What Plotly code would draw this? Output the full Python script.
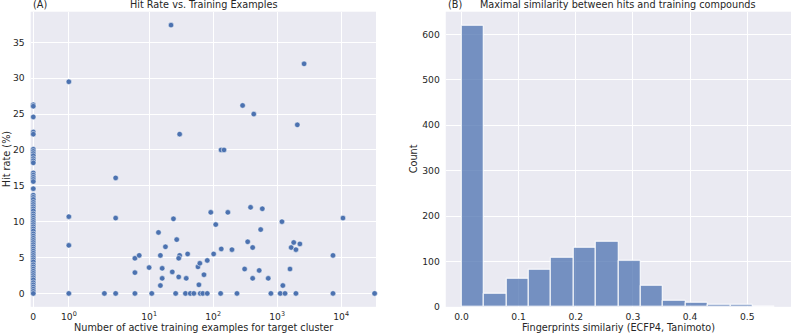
import math
import plotly.graph_objects as go

# ---------------- data: panel A (scatter) ----------------
zero_hit_rates = [26.3, 26.1, 24.6, 22.5, 22.2, 20.1, 19.8, 19.5, 19.2, 18.8, 18.5, 18.2,
                  16.8, 16.5, 16.2, 15.9, 15.6, 14.6,
                  13.7, 13.4, 13.1, 12.7, 12.4, 12.1, 11.8, 11.5, 11.1, 10.8, 10.5, 10.2,
                  9.9, 9.6, 9.3, 9.0, 8.7, 8.3, 8.0, 7.7, 7.4, 7.1, 6.8, 6.5, 6.2, 5.9,
                  5.6, 5.3, 5.0, 4.7, 4.4, 4.0, 3.7, 3.4, 3.1, 2.8, 2.5, 2.2, 1.9, 1.5,
                  1.2, 0.9, 0.6, 0.3, 0.0]

other_examples = [1, 1, 1, 1, 2, 3, 3, 3, 6, 6, 6, 7, 10, 11, 14, 15, 16, 16, 15, 18,
                  22, 24, 23, 27, 26, 30, 29, 29, 30, 40, 38, 37, 44, 50, 58, 62, 60, 72,
                  81, 92, 110, 102, 63, 69, 81, 133, 148, 134, 131, 170, 197, 236, 289,
                  311, 347, 385, 415, 415, 432, 525, 554, 587, 727, 800, 1190, 1230,
                  1120, 1330, 1590, 1660, 1820, 1970, 1970, 2070, 2270, 2640, 7470,
                  7470, 10700, 33400]
other_hit_rates = [29.5, 10.7, 6.7, 0.0, 0.0, 16.1, 10.5, 0.0, 4.9, 2.9, 0.0, 5.3, 3.6,
                   0.0, 8.5, 5.3, 3.5, 2.1, 1.1, 6.5, 37.4, 10.4, 3.0, 7.5, 0.0, 5.3,
                   4.9, 2.3, 22.2, 5.5, 2.1, 0.0, 0.0, 0.0, 3.7, 4.2, 1.2, 2.6, 4.6,
                   11.3, 9.6, 5.5, 0.0, 0.0, 0.0, 20.0, 20.0, 6.2, 0.0, 11.3, 6.1, 0.0,
                   26.2, 3.4, 7.2, 12.0, 6.4, 2.1, 25.0, 3.2, 8.9, 11.8, 2.1, 0.0, 10.0,
                   1.1, 0.0, 0.0, 3.4, 6.4, 7.1, 6.1, 0.0, 23.5, 6.9, 32.0, 5.3, 0.0,
                   10.5, 0.0]

x_tick_values = [0, 1, 10, 100, 1000, 10000]
x_tick_labels = ["0", "10<sup>0</sup>", "10<sup>1</sup>", "10<sup>2</sup>",
                 "10<sup>3</sup>", "10<sup>4</sup>"]
y_ticks_a = [0, 5, 10, 15, 20, 25, 30, 35]

# ---------------- data: panel B (histogram) ----------------
bin_start = 0.0
bin_width = 0.0392
bin_counts = [619, 28, 63, 82, 108, 130, 143, 102, 46, 13, 10, 5, 5, 1]
x_ticks_b = [0.0, 0.1, 0.2, 0.3, 0.4, 0.5]
x_tick_labels_b = ["0.0", "0.1", "0.2", "0.3", "0.4", "0.5"]
y_ticks_b = [0, 100, 200, 300, 400, 500, 600]

# symlog scale (linthresh=2, linscale=1, base 10) as in matplotlib
LINTHRESH = 2.0
LINSCALE_ADJ = 1.0 / (1.0 - 1.0 / 10.0)


def symlog(v):
    if abs(v) <= LINTHRESH:
        return v * LINSCALE_ADJ
    return math.copysign(LINTHRESH * (LINSCALE_ADJ + math.log10(abs(v) / LINTHRESH)), v)


all_x = [0] * len(zero_hit_rates) + other_examples
all_y = zero_hit_rates + other_hit_rates
tx = [symlog(v) for v in all_x]

BLUE = "#4C72B0"
BG = "#EAEAF2"
TXT = "#262626"
FONT = "DejaVu Sans"

fig = go.Figure()

fig.add_trace(go.Scatter(
    x=tx, y=all_y, mode="markers", cliponaxis=False,
    marker=dict(color=BLUE, size=5.5, line=dict(color="white", width=0.5)),
    xaxis="x", yaxis="y", showlegend=False))

centers = [bin_start + bin_width * (i + 0.5) for i in range(len(bin_counts))]
fig.add_trace(go.Bar(
    x=centers, y=bin_counts, width=[bin_width] * len(bin_counts),
    marker=dict(color="rgba(76,114,176,0.75)", line=dict(color="white", width=1)),
    xaxis="x2", yaxis="y2", showlegend=False))

ydom = [0.0868, 0.9652]
dom_a = [0.0388, 0.4747]
dom_b = [0.5628, 0.9987]
tickfont = dict(family=FONT, size=9.2, color=TXT)
common = dict(showgrid=True, gridcolor="white", gridwidth=1, zeroline=False,
              showline=False, ticks="", tickfont=tickfont, automargin=False)

fig.update_layout(
    width=792, height=336,
    margin=dict(l=0, r=0, t=0, b=0),
    paper_bgcolor="white", plot_bgcolor=BG,
    font=dict(family=FONT, color=TXT),
    bargap=0,
    xaxis=dict(domain=dom_a, range=[-0.08, 10.71],
               tickmode="array", tickvals=[symlog(v) for v in x_tick_values],
               ticktext=x_tick_labels, ticklabelstandoff=3, anchor="y", **common),
    yaxis=dict(domain=ydom, range=[-1.87, 39.27], tickmode="array",
               tickvals=y_ticks_a, ticklabelstandoff=5, anchor="x", **common),
    xaxis2=dict(domain=dom_b, range=[-0.0275, 0.5765], tickmode="array",
                tickvals=x_ticks_b, ticktext=x_tick_labels_b, ticklabelstandoff=3,
                anchor="y2", **common),
    yaxis2=dict(domain=ydom, range=[0, 650], tickmode="array",
                tickvals=y_ticks_b, ticklabelstandoff=5, anchor="x2", **common),
)

title_font = dict(family=FONT, size=9.7, color=TXT)
ann = []
for dom, tag, title, xlabel, ylabel, ylab_x in [
        (dom_a, "(A)", "Hit Rate vs. Training Examples",
         "Number of active training examples for target cluster", "Hit rate (%)", 6),
        (dom_b, "(B)", "Maximal similarity between hits and training compounds",
         "Fingerprints similariy (ECFP4, Tanimoto)", "Count", 413)]:
    ann.append(dict(x=dom[0], y=ydom[1], xref="paper", yref="paper", text=tag,
                    showarrow=False, xanchor="left", yanchor="bottom", yshift=0,
                    font=title_font))
    ann.append(dict(x=(dom[0] + dom[1]) / 2, y=ydom[1], xref="paper", yref="paper",
                    text=title, showarrow=False, xanchor="center", yanchor="bottom",
                    yshift=0, font=title_font))
    ann.append(dict(x=(dom[0] + dom[1]) / 2, y=(336 - 327.5) / 336, xref="paper",
                    yref="paper", text=xlabel, showarrow=False, xanchor="center",
                    yanchor="middle", font=title_font))
    ann.append(dict(x=ylab_x / 792, y=(ydom[0] + ydom[1]) / 2, xref="paper",
                    yref="paper", text=ylabel, showarrow=False, textangle=-90,
                    xanchor="center", yanchor="middle", font=title_font))
fig.update_layout(annotations=ann)

fig.write_html("out.html",
               config={"displayModeBar": False},
               post_script="document.body.style.margin='0';"
                           "document.body.style.overflow='hidden';")
